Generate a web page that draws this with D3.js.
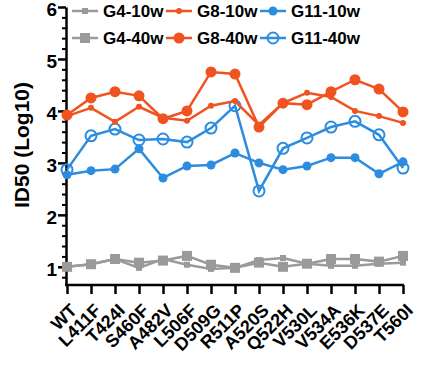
<!DOCTYPE html>
<html>
<head>
<meta charset="utf-8">
<script src="https://cdn.jsdelivr.net/npm/d3@7"></script>
<style>
  body { margin: 0; background: #fff; }
  text { font-family: "Liberation Sans", Arial, sans-serif; font-weight: bold; }
</style>
</head>
<body>
<div id="chart"></div>
<script>
// Mutants along the x axis
const mutants = ["WT", "L411F", "T424I", "S460F", "A482V", "L506F", "D509G", "R511P",
  "A520S", "Q522H", "V530L", "V534A", "E536K", "D537E", "T560I"];

// ID50 (log10)
const g4w10 = [1.0, 1.05, 1.15, 0.98, 1.15, 1.04, 0.96, 0.98, 1.13, 1.17, 1.06, 1.02, 1.02, 1.06, 1.08];
const g4w40 = [1.0, 1.05, 1.15, 1.08, 1.12, 1.21, 1.04, 0.98, 1.08, 1.0, 1.06, 1.15, 1.15, 1.1, 1.21];
const g8w10 = [3.9, 4.06, 3.79, 4.08, 3.87, 3.81, 4.1, 4.19, 3.73, 4.15, 4.35, 4.27, 4.0, 3.9, 3.77];
const g8w40 = [3.92, 4.25, 4.37, 4.29, 3.85, 4.0, 4.75, 4.71, 3.69, 4.15, 4.12, 4.37, 4.6, 4.42, 3.98];
const g11w10 = [2.77, 2.85, 2.88, 3.27, 2.71, 2.94, 2.96, 3.19, 3.0, 2.87, 2.94, 3.1, 3.1, 2.79, 3.02];
const g11w40 = [2.87, 3.52, 3.65, 3.44, 3.46, 3.4, 3.67, 4.1, 2.46, 3.28, 3.48, 3.69, 3.8, 3.54, 2.9];

const yTicks = [1, 2, 3, 4, 5, 6];

const gray = "#9a9a9a", orange = "#f0531f", blue = "#2b8ce0";

const series = [
  { name: "G4-10w", values: g4w10, color: gray, shape: "square", size: 6, fill: true },
  { name: "G4-40w", values: g4w40, color: gray, shape: "square", size: 10, fill: true },
  { name: "G11-10w", values: g11w10, color: blue, shape: "circle", size: 4.5, fill: true },
  { name: "G11-40w", values: g11w40, color: blue, shape: "circle", size: 5.5, fill: false },
  { name: "G8-10w", values: g8w10, color: orange, shape: "circle", size: 3, fill: true },
  { name: "G8-40w", values: g8w40, color: orange, shape: "circle", size: 5.5, fill: true }
];
const legendOrder = ["G4-10w", "G8-10w", "G11-10w", "G4-40w", "G8-40w", "G11-40w"];

const width = 431, height = 366;
const x0 = 66, x1 = 403, yTop = 7, yBot = 285;

const svg = d3.select("#chart").append("svg")
  .attr("width", width)
  .attr("height", height);

const x = d3.scalePoint().domain(mutants).range([x0 + 1, x1]);
const y = d3.scaleLinear().domain([0.65, 6]).range([yBot, yTop]);

// y axis with minor ticks
const minor = d3.range(0.8, 6.001, 0.2).filter(v => Math.abs(v - Math.round(v)) > 0.01);
svg.append("g")
  .attr("transform", `translate(${x0},0)`)
  .call(d3.axisLeft(y).tickValues(minor).tickSize(4).tickFormat(""))
  .call(g => g.select(".domain").remove())
  .selectAll("line").attr("stroke", "#000").attr("stroke-width", 2);

const yAxis = svg.append("g")
  .attr("transform", `translate(${x0},0)`)
  .call(d3.axisLeft(y).tickValues(yTicks).tickSize(8).tickSizeOuter(0).tickFormat(d3.format("d")));
yAxis.select(".domain").attr("stroke-width", 2.5);
yAxis.selectAll("line").attr("stroke-width", 2.5);
yAxis.selectAll("text")
  .attr("font-size", "19px").attr("fill", "#000").attr("x", -9).attr("dy", "0.45em");

// x axis
const xAxis = svg.append("g")
  .attr("transform", `translate(0,${yBot})`)
  .call(d3.axisBottom(x).tickSize(9).tickSizeOuter(0));
xAxis.select(".domain").attr("d", `M${x0 - 1},0H${x1 + 1}`).attr("stroke-width", 2.5);
xAxis.selectAll("line").attr("stroke-width", 2.5);
xAxis.selectAll("text")
  .attr("font-size", "18px").attr("fill", "#000")
  .attr("text-anchor", "end")
  .attr("transform", "translate(1,17) rotate(-45)")
  .attr("y", 0).attr("x", 0).attr("dy", "0.75em");

// y label
svg.append("text")
  .attr("transform", `translate(29,${145}) rotate(-90)`)
  .attr("text-anchor", "middle")
  .attr("font-size", "21px")
  .text("ID50 (Log10)");

function drawMarker(sel, s) {
  if (s.shape === "square") {
    sel.append("rect")
      .attr("x", -s.size / 2).attr("y", -s.size / 2)
      .attr("width", s.size).attr("height", s.size)
      .attr("fill", s.color);
  } else {
    sel.append("circle")
      .attr("r", s.size)
      .attr("fill", s.fill ? s.color : "none")
      .attr("stroke", s.color)
      .attr("stroke-width", s.fill ? 0 : 2);
  }
}

const line = d3.line().x((d, i) => x(mutants[i])).y(d => y(d));

series.forEach(s => {
  const g = svg.append("g");
  g.append("path")
    .attr("d", line(s.values))
    .attr("fill", "none")
    .attr("stroke", s.color)
    .attr("stroke-width", 2.5);
  s.values.forEach((v, i) => {
    const m = g.append("g").attr("transform", `translate(${x(mutants[i])},${y(v)})`);
    drawMarker(m, s);
  });
});

// legend
legendOrder.forEach((name, k) => {
  const s = series.find(d => d.name === name);
  const col = k % 3, row = Math.floor(k / 3);
  const lx = 72 + col * 94, ly = 11 + row * 27;
  const g = svg.append("g").attr("transform", `translate(${lx},${ly})`);
  g.append("line").attr("x1", 0).attr("x2", 26)
    .attr("stroke", s.color).attr("stroke-width", 2.5);
  drawMarker(g.append("g").attr("transform", "translate(13,0)"), s);
  g.append("text").attr("x", 31).attr("dy", "0.36em")
    .attr("font-size", "17px").text(name);
});
</script>
</body>
</html>
